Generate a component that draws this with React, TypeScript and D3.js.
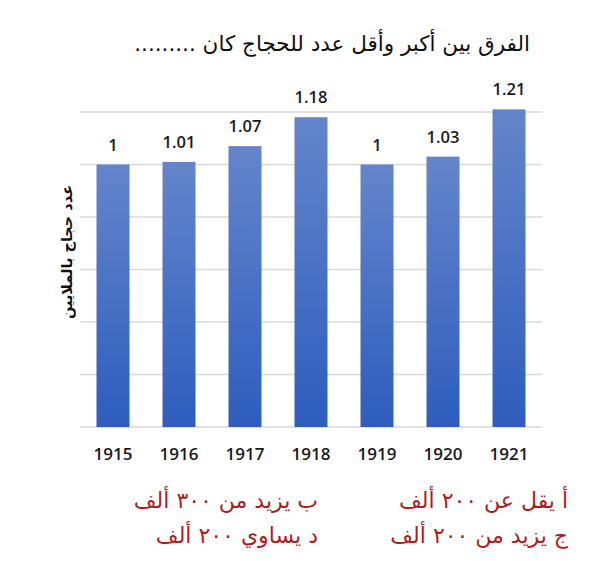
import React, { useEffect, useRef } from 'react';
import * as d3 from 'd3';

const years = ['1915', '1916', '1917', '1918', '1919', '1920', '1921'];
const pilgrims = [1, 1.01, 1.07, 1.18, 1, 1.03, 1.21];
const gridTicks = [0, 0.2, 0.4, 0.6, 0.8, 1, 1.2];

const title = 'الفرق بين أكبر وأقل عدد للحجاج كان .........';
const yTitle = 'عدد حجاج بالملايين';
const choicesRight = ['أ يقل عن ٢٠٠ ألف', 'ج يزيد من ٢٠٠ ألف'];
const choicesLeft = ['ب يزيد من ٣٠٠ ألف', 'د يساوي ٢٠٠ ألف'];

const W = 613;
const H = 561;

const App = () => {
  const ref = useRef<SVGSVGElement | null>(null);

  useEffect(() => {
    const svg = d3.select(ref.current);
    svg.selectAll('*').remove();

    const margin = { top: 112, right: 71, bottom: 134, left: 80 };
    const width = W - margin.left - margin.right;
    const height = H - margin.top - margin.bottom;

    // bar gradient, lighter on top
    const grad = svg.append('defs').append('linearGradient')
      .attr('id', 'barGrad')
      .attr('x1', 0).attr('y1', 0).attr('x2', 0).attr('y2', 1);
    grad.append('stop').attr('offset', '0%').attr('stop-color', '#6485cb');
    grad.append('stop').attr('offset', '100%').attr('stop-color', '#2e5dbd');

    const g = svg.append('g')
      .attr('transform', `translate(${margin.left},${margin.top})`);

    const x = d3.scaleBand().domain(years).range([0, width])
      .paddingInner(0.5).paddingOuter(0.25);
    const y = d3.scaleLinear().domain([0, 1.2]).range([height, 0]);

    // gridlines
    g.selectAll('line.grid')
      .data(gridTicks)
      .enter().append('line')
      .attr('class', 'grid')
      .attr('x1', 0).attr('x2', width)
      .attr('y1', d => y(d)).attr('y2', d => y(d))
      .attr('stroke', '#d9d9d9')
      .attr('stroke-width', 1.3);

    // bars
    g.selectAll('rect')
      .data(pilgrims)
      .enter().append('rect')
      .attr('x', (d, i) => x(years[i]) as number)
      .attr('y', d => y(d))
      .attr('width', x.bandwidth())
      .attr('height', d => height - y(d))
      .attr('fill', 'url(#barGrad)');

    // value labels
    g.selectAll('text.val')
      .data(pilgrims)
      .enter().append('text')
      .attr('class', 'val')
      .attr('x', (d, i) => (x(years[i]) as number) + x.bandwidth() / 2)
      .attr('y', d => y(d) - 14)
      .attr('text-anchor', 'middle')
      .attr('font-family', '"Open Sans", sans-serif')
      .attr('font-weight', 600)
      .attr('font-size', 16.5)
      .attr('fill', '#1a1a1a')
      .text(d => String(d));

    // x axis labels
    const xAxis = g.append('g')
      .attr('transform', `translate(0,${height})`)
      .call(d3.axisBottom(x).tickSize(0).tickPadding(21));
    xAxis.select('.domain').remove();
    xAxis.selectAll('text')
      .attr('font-family', '"Open Sans", sans-serif')
      .attr('font-weight', 600)
      .attr('font-size', 17)
      .attr('fill', '#1a1a1a');

    // y title
    svg.append('text')
      .attr('transform', 'translate(72,252) rotate(-90)')
      .attr('text-anchor', 'middle')
      .attr('direction', 'rtl')
      .attr('font-family', '"DejaVu Sans", sans-serif')
      .attr('font-weight', 'bold')
      .attr('font-size', 14.5)
      .attr('fill', '#111')
      .text(yTitle);

    // title
    svg.append('text')
      .attr('x', 530)
      .attr('y', 51)
      .attr('text-anchor', 'start')
      .attr('direction', 'rtl')
      .attr('font-family', '"DejaVu Sans", sans-serif')
      .attr('font-size', 21.5)
      .attr('fill', '#111')
      .text(title);

    // answer choices
    const choiceRows = [508, 543];
    [[choicesRight, 568], [choicesLeft, 318]].forEach(([list, xr]) => {
      (list as string[]).forEach((t, i) => {
        svg.append('text')
          .attr('x', xr as number)
          .attr('y', choiceRows[i])
          .attr('text-anchor', 'start')
          .attr('direction', 'rtl')
          .attr('font-family', '"DejaVu Sans", sans-serif')
          .attr('font-size', 22)
          .attr('fill', '#b01c1c')
          .text(t);
      });
    });
  }, []);

  return (
    <svg
      ref={ref}
      width={W}
      height={H}
      style={{ position: 'absolute', left: 0, top: 0, background: '#fff' }}
    />
  );
};

export default App;
